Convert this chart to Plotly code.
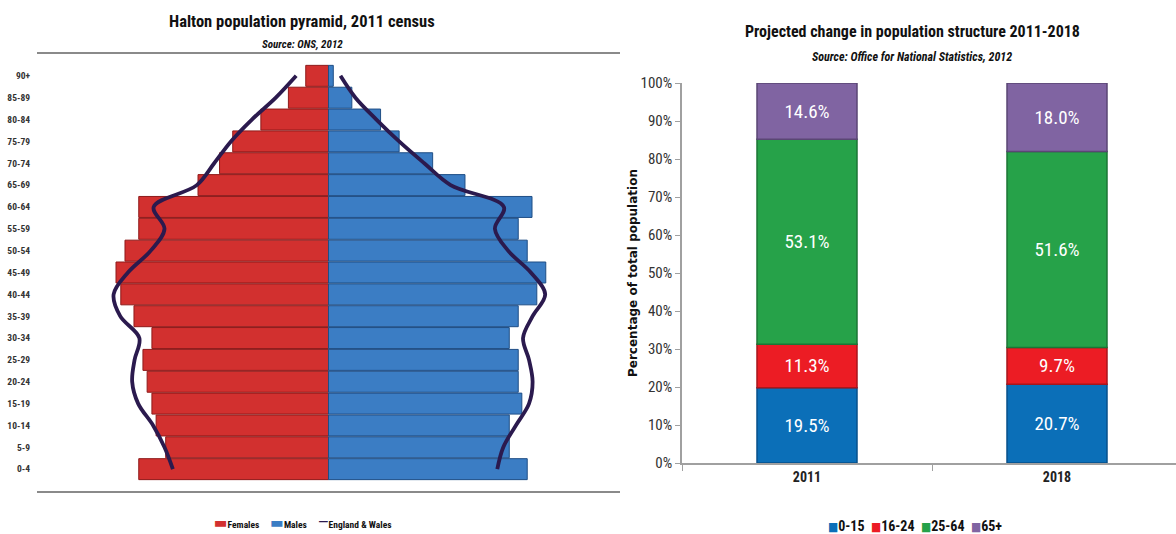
import plotly.graph_objects as go

# Data
ages = ['0-4', '5-9', '10-14', '15-19', '20-24', '25-29', '30-34', '35-39', '40-44', '45-49',
        '50-54', '55-59', '60-64', '65-69', '70-74', '75-79', '80-84', '85-89', '90+']
females = [3.17, 2.72, 2.88, 2.95, 3.03, 3.10, 2.95, 3.25, 3.47, 3.55,
           3.40, 3.17, 3.17, 2.18, 1.82, 1.60, 1.13, 0.67, 0.38]
males = [3.32, 3.02, 3.02, 3.23, 3.17, 3.17, 3.02, 3.17, 3.48, 3.63,
         3.32, 3.17, 3.40, 2.28, 1.74, 1.18, 0.87, 0.39, 0.08]
ew_females = [2.60, 2.74, 2.93, 3.18, 3.28, 3.24, 3.16, 3.48, 3.59, 3.35,
              2.97, 2.74, 2.92, 2.20, 1.91, 1.63, 1.28, 0.88, 0.54]
ew_males = [2.82, 2.92, 3.13, 3.35, 3.41, 3.35, 3.25, 3.41, 3.62, 3.38,
            3.00, 2.78, 2.93, 2.04, 1.60, 1.18, 0.80, 0.45, 0.20]

years = ['2011', '2018']
groups = ['0-15', '16-24', '25-64', '65+']
shares = {
    '0-15': [19.5, 20.7],
    '16-24': [11.3, 9.7],
    '25-64': [53.1, 51.6],
    '65+': [14.6, 18.0],
}
group_colors = {'0-15': '#0B6FB8', '16-24': '#EC1C24', '25-64': '#26A249', '65+': '#8064A2'}
group_lines = {'0-15': '#07508A', '16-24': '#A8151B', '25-64': '#1B7535', '65+': '#5A4674'}

FEMALE_COL = '#D2302F'
MALE_COL = '#3B7DC4'
EW_COL = '#2B1A4E'
NARROW = 'Liberation Sans Narrow, Arial Narrow, Roboto Condensed, DejaVu Sans Condensed, sans-serif'

fig = go.Figure()

## Left chart: population pyramid
fig.add_trace(go.Bar(y=ages, x=[-v for v in females], orientation='h', name='Females',
                     marker=dict(color=FEMALE_COL, line=dict(color='#8E1A1A', width=1)),
                     xaxis='x', yaxis='y'))
fig.add_trace(go.Bar(y=ages, x=males, orientation='h', name='Males',
                     marker=dict(color=MALE_COL, line=dict(color='#1F4E85', width=1)),
                     xaxis='x', yaxis='y'))
fig.add_trace(go.Scatter(y=ages, x=[-v for v in ew_females], mode='lines', name='England & Wales',
                         line=dict(color=EW_COL, width=3.8, shape='spline', smoothing=1.0),
                         xaxis='x', yaxis='y'))
fig.add_trace(go.Scatter(y=ages, x=ew_males, mode='lines', name='England & Wales',
                         line=dict(color=EW_COL, width=3.8, shape='spline', smoothing=1.0),
                         xaxis='x', yaxis='y'))

## Right chart: 100% stacked bars
totals = [sum(shares[g][i] for g in groups) for i in range(len(years))]
for g in groups:
    pct = [shares[g][i] / totals[i] * 100 for i in range(len(years))]
    fig.add_trace(go.Bar(x=years, y=pct, name=g, width=0.4,
                         marker=dict(color=group_colors[g], line=dict(color=group_lines[g], width=1.5)),
                         text=['%.1f%%' % v for v in shares[g]], textposition='inside',
                         insidetextanchor='middle', textangle=0,
                         textfont=dict(color='white', size=19, family=NARROW),
                         xaxis='x2', yaxis='y2'))

fig.update_layout(
    width=1176, height=534,
    margin=dict(l=0, r=0, t=0, b=0, autoexpand=False),
    paper_bgcolor='white', plot_bgcolor='white',
    barmode='relative', bargap=0.04, showlegend=False,
    font=dict(family=NARROW, color='#222'),
    xaxis=dict(domain=[37/1176, 620/1176], range=[-4.87, 4.87], showticklabels=False,
               showgrid=False, zeroline=False, showline=True, mirror=True,
               linecolor='#8A8A8A', linewidth=1.5, automargin=False),
    yaxis=dict(domain=[1 - 491/534, 1 - 54/534], anchor='x', type='category',
               showgrid=False, showline=False, ticks='', ticklabelstandoff=6, automargin=False,
               tickfont=dict(size=9.5, color='#333', family=NARROW, weight='bold')),
    xaxis2=dict(domain=[682/1176, 1.0], range=[-0.5, 1.476], anchor='y2', automargin=False,
                showgrid=False, showline=True, linecolor='#A0A0A0', linewidth=1.5,
                ticks='outside', tickson='boundaries', ticklen=6, tickcolor='#A0A0A0',
                tickfont=dict(size=14, color='#222', family=NARROW, weight='bold')),
    yaxis2=dict(domain=[1 - 463/534, 1 - 83/534], range=[0, 100], anchor='x2', automargin=False,
                dtick=10, ticksuffix='%', showgrid=False, zeroline=False,
                showline=True, linecolor='#A0A0A0', linewidth=1.5,
                ticks='outside', ticklen=5, tickcolor='#A0A0A0',
                tickfont=dict(size=15, color='#333', family=NARROW),
                title=dict(text='Percentage of total population', standoff=0,
                           font=dict(size=12, family='DejaVu Sans', weight='bold', color='#111'))),
)

def note(text, x, y, size, family=NARROW):
    fig.add_annotation(text=text, x=x/1176, y=1 - y/534, xref='paper', yref='paper',
                       xanchor='center', yanchor='middle', showarrow=False,
                       font=dict(size=size, color='#111', family=family))

note('<b>Halton population pyramid, 2011 census</b>', 302, 22, 16.5)
note('<b><i>Source: ONS, 2012</i></b>', 302, 45, 11)
note('<b>Projected change in population structure 2011-2018</b>', 912, 31, 16)
note('<b><i>Source: Office for National Statistics, 2012</i></b>', 912, 57, 12)

# legends drawn as text so the compact Excel look is kept
left_items = [('▬', FEMALE_COL, 'Females'), ('▬', MALE_COL, 'Males'), ('—', EW_COL, 'England & Wales')]
left_legend = '&nbsp;&nbsp;&nbsp;&nbsp;&nbsp;'.join(
    '<span style="color:%s;font-size:16px">%s</span><b>%s</b>' % (c, s, t) for s, c, t in left_items)
note(left_legend, 303, 522, 9.5)

right_legend = '&nbsp;&nbsp;'.join(
    '<span style="color:%s;font-size:12px">■</span><b>%s</b>' % (group_colors[g], g) for g in groups)
note(right_legend, 915, 526, 14)

# drop the default page margin so the figure sits at the window's top-left corner
fig.write_html("out.html", config={'displayModeBar': False},
               post_script="document.body.style.margin='0';")
